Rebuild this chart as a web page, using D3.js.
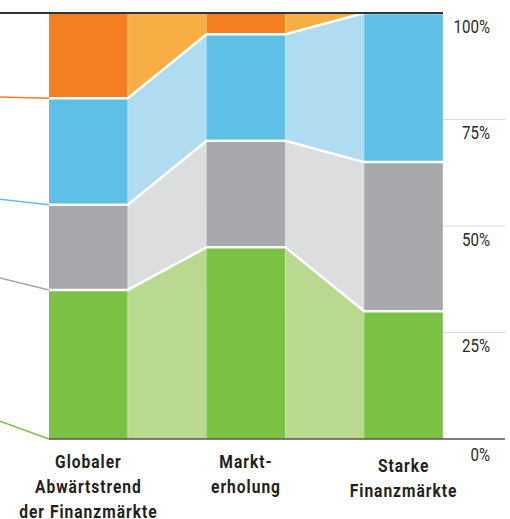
<!DOCTYPE html>
<html>
<head>
<meta charset="utf-8">
<script src="https://cdn.jsdelivr.net/npm/d3@7"></script>
<style>
  html, body { margin: 0; padding: 0; background: #fff; }
  svg { display: block; }
</style>
</head>
<body>
<div class="chart"></div>
<script>
// Kategorien (Marktphasen), je Zeile ein Eintrag
const categories = ['Globaler Abwärtstrend', 'Markterholung', 'Starke Finanzmärkte'];
const categoryLines = [
  ['Globaler', 'Abwärtstrend', 'der Finanzmärkte'],
  ['Markt-', 'erholung'],
  ['Starke', 'Finanzmärkte']
];

// Anteile in % (von unten nach oben)
const seriesKeys = ['gruen', 'grau', 'blau', 'orange'];
const gruenValues = [35, 45, 30];
const grauValues = [20, 25, 35];
const blauValues = [25, 25, 35];
const orangeValues = [20, 5, 0];

// Achse rechts
const tickValues = [0, 25, 50, 75, 100];
const tickLabels = ['0%', '25%', '50%', '75%', '100%'];

// Wert (%) am linken Rand, an dem die Hinweislinien beginnen
const leaderStart = [4.2, 37.8, 56.3, 80.3];

const colors = {
  gruen: { bar: '#7bc143', light: '#b8d98f' },
  grau: { bar: '#a7a8ab', light: '#dcdddf' },
  blau: { bar: '#5ec0e6', light: '#afdcf0' },
  orange: { bar: '#f47e22', light: '#f7af45' }
};

const W = 510, H = 519;
const plotLeft = 49, plotRight = 443, axisRight = 505;
const yTop = 13, yBottom = 439;
const font = 'Roboto, "Liberation Sans", sans-serif';

const table = categories.map((c, i) => ({
  category: c,
  gruen: gruenValues[i],
  grau: grauValues[i],
  blau: blauValues[i],
  orange: orangeValues[i]
}));

const stacked = d3.stack().keys(seriesKeys)(table);

const x = d3.scaleBand()
  .domain(categories)
  .range([plotLeft, plotRight])
  .paddingInner(0.5)
  .paddingOuter(0);

const y = d3.scaleLinear()
  .domain([0, 100])
  .range([yBottom, yTop]);

const bw = x.bandwidth();

const svg = d3.select('.chart')
  .append('svg')
  .attr('width', W)
  .attr('height', H);

// Gitterlinien rechts
svg.append('g')
  .selectAll('line')
  .data(tickValues.filter(v => v > 0 && v < 100))
  .enter()
  .append('line')
  .attr('x1', plotRight)
  .attr('x2', axisRight)
  .attr('y1', d => y(d))
  .attr('y2', d => y(d))
  .attr('stroke', '#d9d9d9')
  .attr('stroke-width', 1);

// Verbindungsflächen zwischen den Balken
const connectors = [];
stacked.forEach(s => {
  for (let i = 0; i < s.length - 1; i++) {
    connectors.push({ key: s.key, a: s[i], b: s[i + 1], ca: categories[i], cb: categories[i + 1] });
  }
});

svg.append('g')
  .selectAll('path')
  .data(connectors)
  .enter()
  .append('path')
  .attr('d', d => {
    const x1 = x(d.ca) + bw, x2 = x(d.cb);
    return 'M' + x1 + ',' + y(d.a[1]) +
      'L' + x2 + ',' + y(d.b[1]) +
      'L' + x2 + ',' + y(d.b[0]) +
      'L' + x1 + ',' + y(d.a[0]) + 'Z';
  })
  .attr('fill', d => colors[d.key].light);

// Balken
svg.append('g')
  .selectAll('g')
  .data(stacked)
  .enter()
  .append('g')
  .attr('fill', d => colors[d.key].bar)
  .selectAll('rect')
  .data(d => d)
  .enter()
  .append('rect')
  .attr('x', d => x(d.data.category))
  .attr('y', d => y(d[1]))
  .attr('width', bw)
  .attr('height', d => y(d[0]) - y(d[1]));

// feine helle Kanten an den Balken
svg.append('g')
  .selectAll('line')
  .data(categories)
  .enter()
  .append('line')
  .attr('x1', d => x(d) + bw)
  .attr('x2', d => x(d) + bw)
  .attr('y1', yTop)
  .attr('y2', yBottom)
  .attr('stroke', '#fff')
  .attr('stroke-opacity', 0.45)
  .attr('stroke-width', 0.8);

// weiße Trennlinien zwischen den Segmenten
const line = d3.line();
svg.append('g')
  .selectAll('path')
  .data(stacked.slice(0, 3))
  .enter()
  .append('path')
  .attr('d', s => {
    const pts = [];
    s.forEach((d, i) => {
      const x0 = x(categories[i]);
      pts.push([x0, y(d[1])], [x0 + bw, y(d[1])]);
    });
    return line(pts);
  })
  .attr('fill', 'none')
  .attr('stroke', '#fff')
  .attr('stroke-width', 2.5);

// Hinweislinien links
svg.append('g')
  .selectAll('line')
  .data(stacked)
  .enter()
  .append('line')
  .attr('x1', 0)
  .attr('y1', (s, i) => y(leaderStart[i]))
  .attr('x2', plotLeft)
  .attr('y2', s => y(s[0][0]))
  .attr('stroke', s => colors[s.key].bar)
  .attr('stroke-width', 1.5);

// obere Linie
svg.append('line')
  .attr('x1', 0)
  .attr('x2', plotRight)
  .attr('y1', y(100))
  .attr('y2', y(100))
  .attr('stroke', '#333')
  .attr('stroke-width', 2);

// Grundlinie
svg.append('line')
  .attr('x1', plotLeft)
  .attr('x2', axisRight)
  .attr('y1', y(0))
  .attr('y2', y(0))
  .attr('stroke', '#555')
  .attr('stroke-width', 1.5);

// Achsenbeschriftung rechts (schmal gestaucht)
svg.append('g')
  .selectAll('g')
  .data(tickValues)
  .enter()
  .append('g')
  .attr('transform', d => 'translate(490,' + (y(d) + (d === 0 ? 22 : 19.5)) + ') scale(0.84,1)')
  .append('text')
  .attr('text-anchor', 'end')
  .style('font-family', font)
  .style('font-size', '18px')
  .style('font-weight', 400)
  .attr('fill', '#2b2b2b')
  .text((d, i) => tickLabels[i]);

// Kategorien unten
const labelShift = [0, 0, 4];
const label = svg.append('g')
  .selectAll('g')
  .data(categories)
  .enter()
  .append('g')
  .attr('transform', (d, i) => 'translate(' + (x(d) + bw / 2) + ',' + (yBottom + 28.5 + labelShift[i]) + ') scale(0.82,1)')
  .append('text')
  .attr('text-anchor', 'middle')
  .style('font-family', font)
  .style('font-size', '19px')
  .style('font-weight', 'bold')
  .style('letter-spacing', '1.2px')
  .attr('fill', '#231f20');

label.selectAll('tspan')
  .data((d, i) => categoryLines[i])
  .enter()
  .append('tspan')
  .attr('x', 0)
  .attr('y', (d, j) => j * 25.5)
  .text(d => d);
</script>
</body>
</html>
